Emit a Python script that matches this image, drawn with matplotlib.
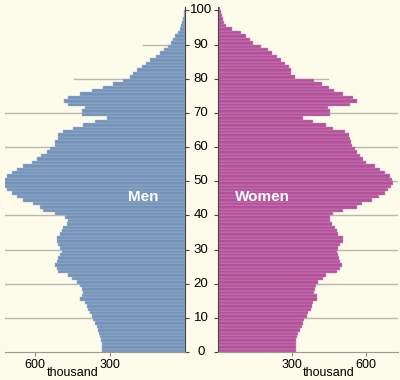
import numpy as np
import matplotlib.pyplot as plt
from matplotlib.transforms import blended_transform_factory

plt.rcParams['font.family'] = ['Liberation Sans', 'DejaVu Sans']

# population by single year of age (thousand), ages 0..100
ages = list(range(0, 101))
men = [333, 333, 333, 337, 340, 343, 347, 353, 360, 367,
       373, 380, 387, 393, 400, 420, 413, 407, 413, 420,
       433, 453, 467, 507, 513, 520, 513, 507, 500, 493,
       500, 507, 513, 513, 500, 493, 487, 473, 467, 480,
       520, 567, 580, 607, 647, 673, 693, 713, 725, 730,
       727, 713, 693, 673, 647, 613, 593, 575, 553, 540,
       520, 520, 510, 507, 487, 447, 407, 360, 313, 413,
       413, 400, 467, 483, 467, 420, 373, 330, 290, 250,
       220, 207, 193, 173, 155, 140, 115, 100, 85, 70,
       55, 48, 40, 30, 22, 16, 12, 8, 5, 3, 2]
women = [316, 316, 318, 318, 321, 325, 332, 339, 343, 348,
         359, 366, 379, 383, 386, 402, 400, 389, 393, 397,
         406, 427, 440, 481, 494, 501, 494, 491, 487, 481,
         487, 494, 505, 507, 487, 481, 474, 464, 454, 456,
         467, 507, 562, 583, 624, 651, 678, 691, 700, 711,
         705, 697, 676, 656, 636, 602, 589, 575, 562, 555,
         545, 541, 535, 532, 514, 467, 440, 386, 346, 456,
         456, 447, 535, 564, 548, 508, 470, 451, 420, 389,
         312, 298, 298, 289, 271, 254, 238, 217, 204, 174,
         143, 130, 113, 93, 58, 32, 25, 20, 17, 13, 10]

grid_ages = [10, 20, 30, 40, 50, 60, 70, 80, 90]
grid_len = [730, 730, 730, 730, 730, 730, 730, 445, 170]

bg = '#fdfbe9'
men_col = '#7393b9'
women_col = '#b3529a'

fig = plt.figure(figsize=(4, 3.8), dpi=100, facecolor=bg)
bottom = 28 / 380
height = 345 / 380
axL = fig.add_axes([5 / 400, bottom, 180 / 400, height], facecolor=bg)
axR = fig.add_axes([218 / 400, bottom, 180 / 400, height], facecolor=bg)

for ax, vals, col, edge in [(axL, men, men_col, '#a9bcd4'),
                            (axR, women, women_col, '#d390c2')]:
    for a, l in zip(grid_ages, grid_len):
        ax.plot([0, l], [a, a], color='#b8b8b0', lw=1, zorder=1)
    ax.barh(ages, vals, height=1, align='edge', color=col,
            edgecolor=edge, linewidth=0.3, zorder=2)
    ax.set_ylim(0, 101)
    ax.set_yticks(range(0, 101, 10))
    ax.set_yticklabels([])
    ax.set_xticks([300, 600])
    ax.tick_params(axis='x', length=3, color='#888888', labelsize=9, pad=2)
    ax.tick_params(axis='y', length=3, color='#444444', direction='out')
    ax.spines['top'].set_visible(False)
    ax.spines['bottom'].set_color('#999999')
    ax.text(450, -0.062, 'thousand',
            transform=blended_transform_factory(ax.transData, ax.transAxes),
            ha='center', va='center', fontsize=9)

axL.set_xlim(720, 0)
axL.spines['left'].set_visible(False)
axL.spines['right'].set_color('#444444')
axL.yaxis.tick_right()

axR.set_xlim(0, 730)
axR.spines['right'].set_visible(False)
axR.spines['left'].set_color('#444444')

axL.text(168, 45.3, 'Men', color='white', fontweight='bold', fontsize=11,
         ha='center', va='center', zorder=3)
axR.text(182, 45.3, 'Women', color='white', fontweight='bold', fontsize=11,
         ha='center', va='center', zorder=3)

tr = blended_transform_factory(fig.transFigure, axL.transData)
for a in range(0, 101, 10):
    fig.text(0.5025, a, str(a), transform=tr, ha='center', va='center', fontsize=9.5)

fig.savefig('out.png', dpi=100, facecolor=bg)
